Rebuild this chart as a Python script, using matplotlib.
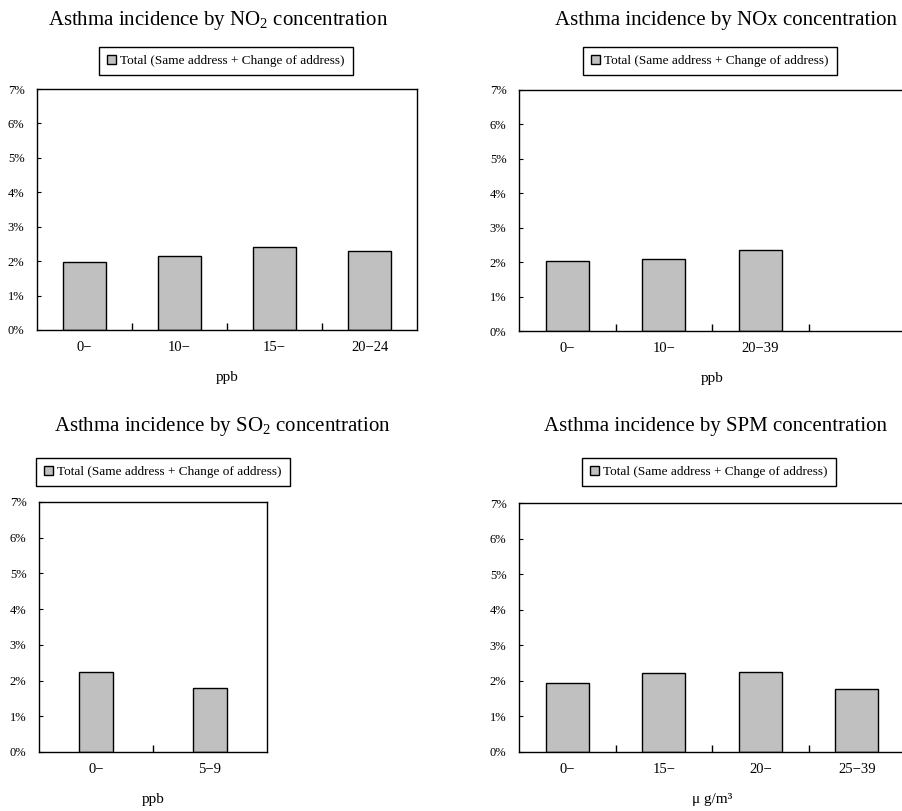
import matplotlib
matplotlib.use("Agg")
import matplotlib.pyplot as plt
from matplotlib.patches import Patch
from matplotlib.ticker import FixedLocator, FuncFormatter

plt.rcParams['font.family'] = ['Liberation Serif', 'DejaVu Serif']
plt.rcParams['mathtext.fontset'] = 'custom'
plt.rcParams['mathtext.rm'] = 'Liberation Serif'

W, H = 902, 811

# data (% incidence)
no2_cats = ['0−', '10−', '15−', '20−24']
no2_vals = [1.98, 2.14, 2.41, 2.30]

nox_cats = ['0−', '10−', '20−39']
nox_vals = [2.02, 2.10, 2.35]

so2_cats = ['0−', '5−9']
so2_vals = [2.24, 1.79]

spm_cats = ['0−', '15−', '20−', '25−39']
spm_vals = [1.95, 2.22, 2.26, 1.76]

legend_label = 'Total (Same address + Change of address)'
bar_color = '#c0c0c0'


def rect(l, t, r, b):
    return [l / W, 1 - b / H, (r - l) / W, (b - t) / H]


def panel(fig, box, cats, vals, nslots, bw, title, title_xy, leg_xy, unit):
    ax = fig.add_axes(rect(*box))
    x = list(range(len(vals)))
    ax.bar(x, vals, width=bw, color=bar_color, edgecolor='black', linewidth=1.0)
    ax.set_xlim(-0.5, nslots - 0.5)
    ax.set_ylim(0, 7)
    ax.set_yticks(range(8))
    ax.yaxis.set_major_formatter(FuncFormatter(lambda v, p: '%d%%' % v))
    ax.tick_params(axis='y', direction='in', length=3, pad=9, labelsize=9)
    ax.set_xticks(x)
    ax.set_xticklabels(cats)
    ax.tick_params(axis='x', which='major', length=0, pad=8, labelsize=10.5)
    ax.xaxis.set_minor_locator(FixedLocator([i + 0.5 for i in range(nslots - 1)]))
    ax.tick_params(axis='x', which='minor', direction='in', length=5, width=1)
    for s in ax.spines.values():
        s.set_linewidth(1.0)
    ax.set_xlabel(unit, fontsize=11, labelpad=12)
    fig.text(title_xy[0] / W, 1 - title_xy[1] / H, title, fontsize=15,
             ha='center', va='center')
    handle = Patch(facecolor=bar_color, edgecolor='black', linewidth=1.0)
    leg = ax.legend([handle], [legend_label], loc='center',
                    bbox_to_anchor=(leg_xy[0] / W, 1 - leg_xy[1] / H),
                    bbox_transform=fig.transFigure, fontsize=9.5,
                    handlelength=0.7, handleheight=0.7, handletextpad=0.3,
                    fancybox=False, framealpha=1, edgecolor='black',
                    borderpad=0.6)
    leg.get_frame().set_linewidth(1.0)
    return ax


fig = plt.figure(figsize=(W / 100, H / 100), dpi=100)

panel(fig, (37, 89, 417, 330), no2_cats, no2_vals, 4, 0.45,
      r'Asthma incidence by NO$_\mathrm{2}$ concentration', (218, 20), (226, 61), 'ppb')
panel(fig, (519, 90, 905, 331), nox_cats, nox_vals, 4, 0.45,
      'Asthma incidence by NOx concentration', (726, 20), (710, 61), 'ppb')
panel(fig, (39, 502, 267, 752), so2_cats, so2_vals, 2, 0.3,
      r'Asthma incidence by SO$_\mathrm{2}$ concentration', (222, 426), (163, 472), 'ppb')
panel(fig, (519, 503, 905, 752), spm_cats, spm_vals, 4, 0.45,
      'Asthma incidence by SPM concentration', (716, 426), (709, 472), 'μ g/m³')

fig.savefig('out.png', dpi=100)
